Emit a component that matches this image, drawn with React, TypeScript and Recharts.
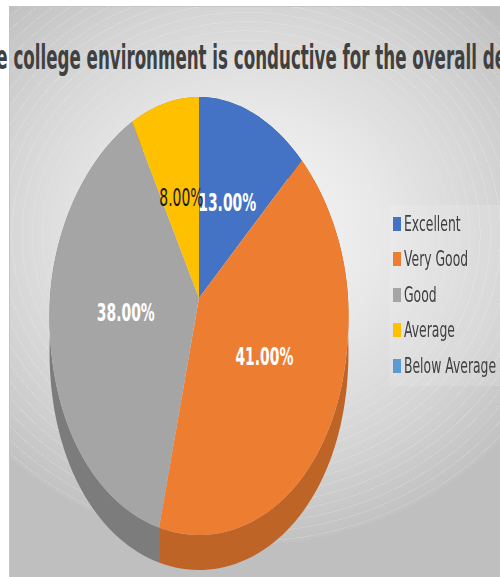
import { Legend, Pie, PieChart } from 'recharts';

const categories = ['Excellent', 'Very Good', 'Good', 'Average', 'Below Average'];
const shares = [13, 41, 38, 8, 0];
const faceColors = ['#4472c4', '#ed7d31', '#a5a5a5', '#ffc000', '#5b9bd5'];
const wallColors = ['#345796', '#be6427', '#7c7c7c', '#bf9000', '#3f77a8'];
const labelColors = ['#ffffff', '#ffffff', '#ffffff', '#1a1a1a', '#ffffff'];
const titleText = 'The college environment is conductive for the overall development';

const faceData = categories.map((name, i) => ({ name, value: shares[i], fill: faceColors[i] }));
const wallData = categories.map((name, i) => ({ name, value: shares[i], fill: wallColors[i] }));

// the original pie is tilted: squashed differently above and below its centre
const TOP_STRETCH = 201 / 149;
const BOTTOM_STRETCH = 237 / 149;
const TAPER = 0.08;
const WALL_DEPTH = 35;
const RAD = Math.PI / 180;
const GLOW = 'ellipse 340px 310px at 236px 228px';

function tilted(cx: number, cy: number, r: number, angle: number) {
  const sin = Math.sin(angle * RAD);
  return {
    x: cx + r * Math.cos(angle * RAD) * (1 - TAPER * sin),
    y: cy - r * sin * (sin > 0 ? TOP_STRETCH : BOTTOM_STRETCH),
  };
}

function arcPoints(props: any) {
  const { cx, cy, outerRadius, startAngle, endAngle } = props;
  const steps = Math.max(2, Math.ceil(Math.abs(endAngle - startAngle) / 2));
  const points = [];
  for (let i = 0; i <= steps; i++) {
    points.push(tilted(cx, cy, outerRadius, startAngle + ((endAngle - startAngle) * i) / steps));
  }
  return points;
}

function FaceSector(props: any) {
  if (props.startAngle === props.endAngle) return null;
  const rim = arcPoints(props).map((p) => `L${p.x} ${p.y}`).join(' ');
  return <path d={`M${props.cx} ${props.cy} ${rim} Z`} fill={props.fill} />;
}

function WallSector(props: any) {
  if (props.startAngle === props.endAngle) return null;
  const rim = arcPoints(props);
  const top = rim.map((p) => `${p.x} ${p.y}`);
  const bottom = rim.map((p) => `${p.x} ${p.y + WALL_DEPTH}`).reverse();
  return <path d={`M${[...top, ...bottom].join(' L')} Z`} fill={props.fill} />;
}

function SliceLabel(props: any) {
  const { cx, cy, outerRadius, midAngle, index, value } = props;
  if (!value) return null;
  const upper = Math.sin(midAngle * RAD) > 0;
  const p = tilted(cx, cy, outerRadius * (upper ? 0.515 : 0.49), midAngle);
  const dark = labelColors[index] !== '#ffffff';
  return (
    <text
      transform={`translate(${p.x} ${p.y}) scale(0.58 1)`}
      textAnchor="middle"
      dominantBaseline="central"
      fill={labelColors[index]}
      fontFamily="DejaVu Sans"
      fontSize={24}
      fontWeight={dark ? 400 : 700}
    >
      {value.toFixed(2)}%
    </text>
  );
}

function LegendList() {
  return (
    <div style={{ background: 'rgba(255,255,255,0.12)', width: 111, height: 180, paddingTop: 1 }}>
      {categories.map((name, i) => (
        <div key={name} style={{ height: 35.5, display: 'flex', alignItems: 'center', paddingLeft: 4 }}>
          <span style={{ width: 8, height: 14, background: faceColors[i], flex: 'none' }} />
          <span
            style={{
              marginLeft: 3,
              fontFamily: 'DejaVu Sans',
              fontSize: 21,
              color: '#404040',
              whiteSpace: 'nowrap',
              transform: 'scaleX(0.59)',
              transformOrigin: 'left center',
            }}
          >
            {name}
          </span>
        </div>
      ))}
    </div>
  );
}

export default function App() {
  return (
    <div style={{ position: 'absolute', left: 0, top: 0, width: 500, height: 577, background: '#fff', overflow: 'hidden' }}>
      <div
        style={{
          position: 'absolute',
          left: 9,
          top: 6,
          width: 491,
          height: 571,
          borderTop: '1px solid #c4c4c4',
          borderLeft: '1px solid #c4c4c4',
          boxSizing: 'border-box',
          background: `radial-gradient(${GLOW}, #f8f8f8 0, #e8e8e8 40%, #d4d4d4 75%, #c2c2c2 100%, #bfbfbf 100%)`,
        }}
      >
        {/* faint rings of the original's background fill */}
        <div
          style={{
            position: 'absolute',
            inset: 0,
            background: `repeating-radial-gradient(${GLOW}, transparent 0, transparent 2.7%, rgba(255,255,255,0.16) 2.7%, rgba(255,255,255,0.16) 3%)`,
            WebkitMaskImage: `radial-gradient(${GLOW}, transparent 45%, #000 70%, #000 100%, transparent 100%)`,
            maskImage: `radial-gradient(${GLOW}, transparent 45%, #000 70%, #000 100%, transparent 100%)`,
          }}
        />
      </div>
      <PieChart width={500} height={577} margin={{ top: 0, right: 0, bottom: 0, left: 0 }} style={{ position: 'absolute', left: 0, top: 0 }}>
        <text
          transform="translate(-27 58) scale(0.506 1)"
          dominantBaseline="central"
          fill="#404040"
          fontFamily="DejaVu Sans"
          fontSize={33}
          fontWeight={700}
        >
          {titleText}
        </text>
        <Pie
          data={wallData}
          dataKey="value"
          nameKey="name"
          cx={199}
          cy={298}
          outerRadius={149}
          startAngle={90}
          endAngle={-270}
          stroke="none"
          legendType="none"
          shape={WallSector}
          isAnimationActive={false}
        />
        <Pie
          data={faceData}
          dataKey="value"
          nameKey="name"
          cx={199}
          cy={298}
          outerRadius={149}
          startAngle={90}
          endAngle={-270}
          stroke="none"
          shape={FaceSector}
          label={SliceLabel}
          labelLine={false}
          isAnimationActive={false}
        />
        <Legend
          layout="vertical"
          content={<LegendList />}
          wrapperStyle={{ left: 389, top: 205, width: 111, height: 180 }}
        />
      </PieChart>
    </div>
  );
}
